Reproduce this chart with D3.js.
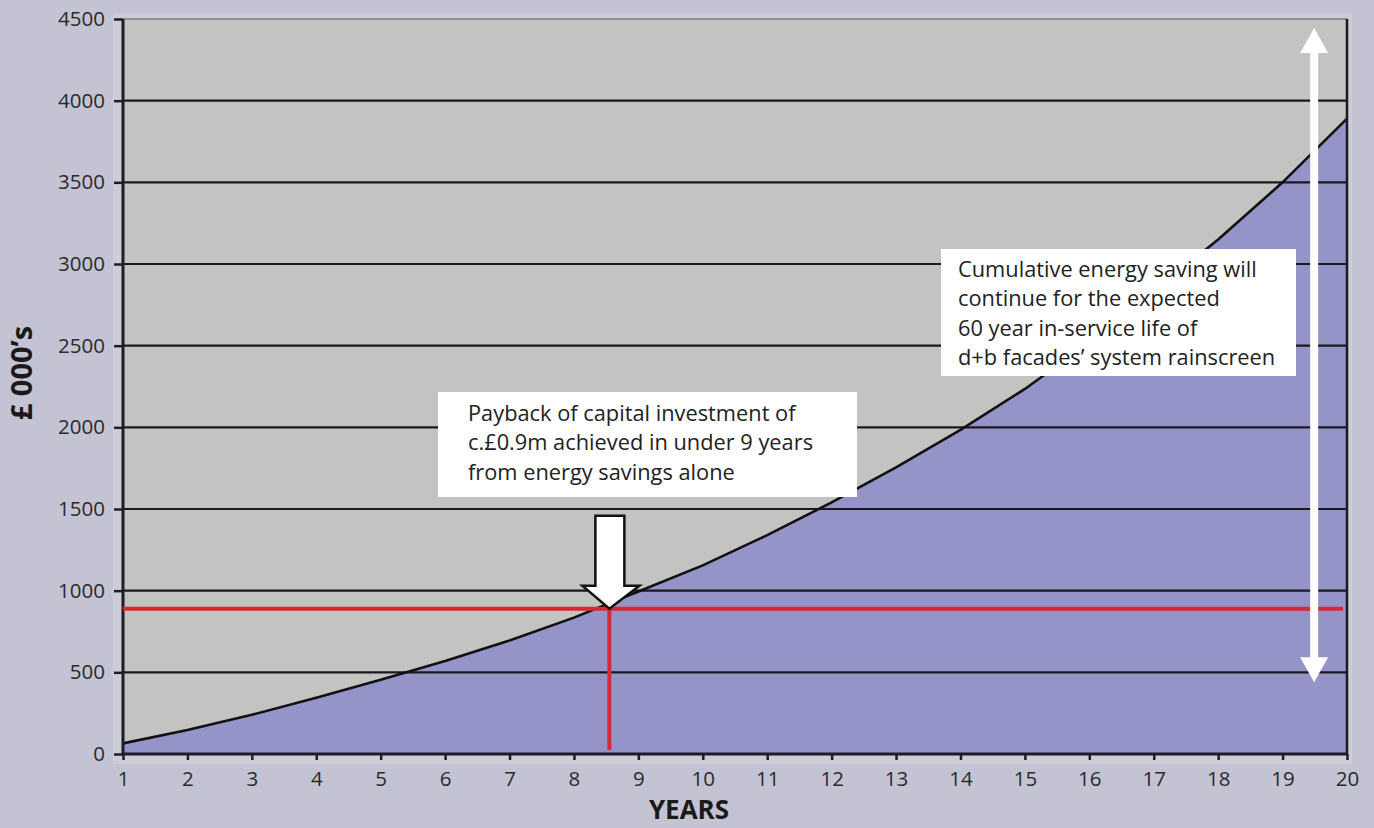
<!DOCTYPE html>
<html><head><meta charset="utf-8">
<script src="https://cdn.jsdelivr.net/npm/d3@7"></script>
<style>
html,body{margin:0;padding:0;background:#c4c3d3;}
svg{display:block;font-family:"Open Sans","Noto Sans",sans-serif;}
</style></head>
<body><svg id="c" width="1374" height="828"></svg>
<script>
const years = [1,2,3,4,5,6,7,8,9,10,11,12,13,14,15,16,17,18,19,20];
const savings = [65,147,240,345,455,570,695,835,995,1155,1340,1540,1755,1985,2235,2520,2830,3150,3500,3890];
const yTicks = [0,500,1000,1500,2000,2500,3000,3500,4000,4500];
const paybackValue = 890;
const paybackYear = 8.55;
const note1 = ["Payback of capital investment of","c.£0.9m achieved in under 9 years","from energy savings alone"];
const note2 = ["Cumulative energy saving will","continue for the expected","60 year in-service life of","d+b facades’ system rainscreen"];
const lifeArrow = {year:19.49, from:440, to:4445};

const svg = d3.select("#c");
const x = d3.scaleLinear().domain([1,20]).range([123,1347]);
const y = d3.scaleLinear().domain([0,4500]).range([754,19]);

svg.append("rect").attr("x",113).attr("y",14).attr("width",1239).attr("height",750).attr("fill","#cdcdd6");
svg.append("rect").attr("x",x(1)).attr("y",y(4500)).attr("width",x(20)-x(1)).attr("height",y(0)-y(4500)).attr("fill","#c3c3c1");

svg.append("path").datum(years.map((d,i)=>[d,savings[i]]))
  .attr("d", d3.area().x(d=>x(d[0])).y0(y(0)).y1(d=>y(d[1])))
  .attr("fill","#9494c8");

svg.append("g").selectAll("line").data(yTicks.filter(d=>d>0)).join("line")
  .attr("x1",x(1)).attr("x2",x(20)).attr("y1",d=>y(d)).attr("y2",d=>y(d))
  .attr("stroke",d=>d===4500?"#8e8e90":"#1a1a1e").attr("stroke-width",2.2);

svg.append("path").datum(years.map((d,i)=>[d,savings[i]]))
  .attr("d", d3.line().x(d=>x(d[0])).y(d=>y(d[1])))
  .attr("fill","none").attr("stroke","#111").attr("stroke-width",2.6);

svg.append("line").attr("x1",x(20)).attr("x2",x(20)).attr("y1",y(4500)).attr("y2",y(0)).attr("stroke","#1a1a24").attr("stroke-width",2.5);

const yAxis = svg.append("g").attr("transform",`translate(${x(1)},0)`)
  .call(d3.axisLeft(y).tickValues(yTicks).tickSize(9).tickPadding(9).tickFormat(d3.format("d")));
const xAxis = svg.append("g").attr("transform",`translate(0,${y(0)})`)
  .call(d3.axisBottom(x).tickValues(years).tickSize(6).tickPadding(11).tickFormat(d3.format("d")));
[yAxis,xAxis].forEach(g=>{
  g.attr("font-size",null).attr("font-family",null);
  g.select(".domain").attr("stroke","#1c1c2a").attr("stroke-width",3);
  g.selectAll(".tick line").attr("stroke","#1c1c2a").attr("stroke-width",2.5);
  g.selectAll(".tick text").attr("fill","#2a2a2a").attr("font-size","20.5px").attr("font-family","'Open Sans',sans-serif");
});
yAxis.select(".domain").attr("d",`M0,${y(4500)}V${y(0)}`);
xAxis.select(".domain").attr("d",`M${x(1)},0H${x(20)}`);

svg.append("text").attr("transform","translate(32,373) rotate(-90)").attr("text-anchor","middle")
  .attr("font-size","29px").attr("font-weight","bold").attr("fill","#1a1a1a").text("£ 000’s");
svg.append("text").attr("x",689).attr("y",819).attr("text-anchor","middle")
  .attr("font-size","26px").attr("font-weight","bold").attr("fill","#1a1a1a").text("YEARS");

svg.append("line").attr("x1",x(1)).attr("x2",x(20)-4).attr("y1",y(paybackValue)).attr("y2",y(paybackValue))
  .attr("stroke","#d42a32").attr("stroke-width",4);
svg.append("line").attr("x1",x(paybackYear)).attr("x2",x(paybackYear)).attr("y1",y(paybackValue)).attr("y2",y(0)-4)
  .attr("stroke","#d42a32").attr("stroke-width",4);

const ax = x(paybackYear), ay = y(paybackValue);
svg.append("path").attr("d",`M${ax},${ay} L${ax-27},${ay-23} L${ax-14},${ay-23} L${ax-14},${ay-93} L${ax+15},${ay-93} L${ax+15},${ay-23} L${ax+30},${ay-23} Z`)
  .attr("fill","#fff").attr("stroke","#111").attr("stroke-width",2.5).attr("stroke-linejoin","miter");

const dx = x(lifeArrow.year), yt = y(lifeArrow.to), yb = y(lifeArrow.from);
svg.append("line").attr("x1",dx).attr("x2",dx).attr("y1",yt+20).attr("y2",yb-20).attr("stroke","#fff").attr("stroke-width",8);
svg.append("path").attr("d",`M${dx},${yt} L${dx-14},${yt+25} L${dx+14},${yt+25} Z`).attr("fill","#fff");
svg.append("path").attr("d",`M${dx},${yb} L${dx-14},${yb-25} L${dx+14},${yb-25} Z`).attr("fill","#fff");

function note(lines, bx, by, bw, bh, tx, ty0){
  svg.append("rect").attr("x",bx).attr("y",by).attr("width",bw).attr("height",bh).attr("fill","#fff");
  svg.append("g").selectAll("text").data(lines).join("text")
    .attr("x",tx).attr("y",(d,i)=>ty0+i*29.3).attr("fill","#222")
    .attr("font-size","21.8px").text(d=>d);
}
note(note1, 438, 392, 419, 105, 468, 421);
note(note2, 941, 249, 355, 127, 958, 277);
</script></body></html>
